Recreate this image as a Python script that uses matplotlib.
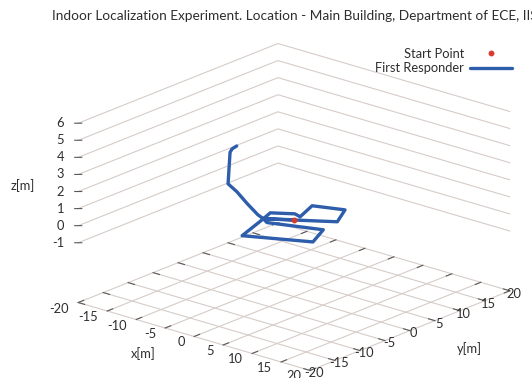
import numpy as np
import matplotlib
matplotlib.use('Agg')
import matplotlib.pyplot as plt
from mpl_toolkits.mplot3d import proj3d

plt.rcParams['font.family'] = ['Lato', 'DejaVu Sans']

# tracked path of the responder in metres, ground floor loops then the stairs
track_x = [0.0, -3.3, -1.2, 7.4, 5.4, -2.0, -3.3, -4.1, -1.4, -0.15, -1.7, 2.6, 4.8, -3.3,
           -4.0, -6.5, -8.8, -10.0, -10.0, -10.0, -9.2]
track_y = [0.0, -2.3, -9.0, -4.8, -0.4, -3.1, -2.3, 0.0, 1.8, 1.4, 5.6, 7.2, 3.1, -2.3,
           -2.6, -1.8, -1.2, -1.6, -1.2, -0.8, -0.8]
track_z = [0.0, 0.0, 0.0, 0.0, 0.0, 0.0, 0.0, 0.0, 0.0, 0.0, 0.0, 0.0, 0.0, 0.0,
           0.2, 0.5, 0.9, 1.3, 3.1, 3.25, 3.5]
start = [0.0, 0.0, 0.0]

xy_ticks = [-20, -15, -10, -5, 0, 5, 10, 15, 20]
z_ticks = [-1, 0, 1, 2, 3, 4, 5, 6]
base_z = -4.5

grid_c = '#d6ccc8'
tic_c = '#5a5a5a'
txt_c = '#2e2e2e'
blue = '#2d5dab'
red = '#d83a2e'
fs = 9.3

fig = plt.figure(figsize=(5.32, 3.78), dpi=100)
ax = fig.add_axes([0.1878, -0.0611, 0.7105, 1.0], projection='3d')
ax.set_proj_type('ortho')
ax.view_init(elev=20, azim=-49.4)
ax.set_xlim(-20, 20)
ax.set_ylim(-20, 20)
ax.set_zlim(base_z, 6)
ax.set_box_aspect((1, 1.005, 0.625), zoom=1.215)
ax.set_axis_off()
ax.computed_zorder = False


def label3d(x, y, z, s, **kw):
    # place a flat label at a projected 3D point
    px, py, _ = proj3d.proj_transform(x, y, z, ax.get_proj())
    ax.text2D(px, py, s, transform=ax.transData, fontsize=fs, color=txt_c, **kw)


def seg(xs, ys, zs, c, lw, zo):
    ax.plot(xs, ys, zs, color=c, lw=lw, zorder=zo, clip_on=False)


# floor grid
for t in xy_ticks:
    seg([t, t], [-20, 20], [base_z, base_z], grid_c, 0.8, 1)
    seg([-20, 20], [t, t], [base_z, base_z], grid_c, 0.8, 1)

# z levels on the two back walls
for z in z_ticks:
    seg([-20, -20, 20], [-20, 20, 20], [z, z, z], grid_c, 0.8, 1)

# tics, mirrored on the back edges
tl = 1.1
for t in xy_ticks:
    seg([t, t], [-20, -20 + tl], [base_z, base_z], tic_c, 0.8, 2)
    seg([t, t], [20, 20 - tl], [base_z, base_z], tic_c, 0.8, 2)
    seg([20, 20 - tl], [t, t], [base_z, base_z], tic_c, 0.8, 2)
    seg([-20, -20 + tl], [t, t], [base_z, base_z], tic_c, 0.8, 2)
    label3d(t + 0.6, -22.5, base_z, str(t), ha='right', va='center')
    label3d(21.1, t - 0.5, base_z, str(t), ha='center', va='center')

for z in z_ticks:
    seg([-20.35, -19.65], [-20.3, -19.7], [z, z], tic_c, 0.8, 2)
    label3d(-21.4, -21.2, z, str(z), ha='right', va='center')

label3d(-0.85, -29.2, base_z, 'x[m]', ha='center', va='center')
label3d(30.4, -0.1, base_z, 'y[m]', ha='center', va='center')
label3d(-25.6, -24.7, 2.35, 'z[m]', ha='center', va='center')

path, = ax.plot(track_x, track_y, track_z, color=blue, lw=2.4,
                solid_joinstyle='round', solid_capstyle='round', zorder=3,
                clip_on=False, label='First Responder')
sp, = ax.plot([start[0]], [start[1]], [start[2]], 'o', color=red, ms=3.2, zorder=4,
              clip_on=False, label='Start Point')

ax.legend(handles=[sp, path], loc='upper right', bbox_to_anchor=(0.962, 0.874),
          bbox_transform=fig.transFigure, frameon=False, markerfirst=False,
          handlelength=3.2, handletextpad=0.5, labelspacing=0.2,
          borderaxespad=0, borderpad=0, fontsize=fs, labelcolor=txt_c)

fig.text(52 / 532, 1 - 16 / 378,
         'Indoor Localization Experiment. Location - Main Building, Department of ECE, IISc',
         ha='left', va='center', fontsize=9.8, color=txt_c)

fig.savefig('out.png', dpi=100)
